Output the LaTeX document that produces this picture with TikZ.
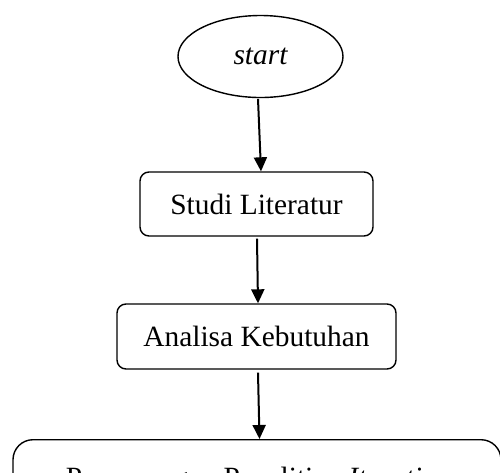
\documentclass[tikz,border=0pt]{standalone}
\usepackage{fontspec}
\setmainfont{Liberation Serif}
\usetikzlibrary{shapes.geometric,arrows.meta}
\begin{document}
\begin{tikzpicture}[x=0.5pt,y=-0.5pt,
  every node/.style={font=\fontsize{14.7}{17}\selectfont, inner sep=0pt},
  stepbox/.style={draw, line width=0.7pt, rounded corners=4.5pt},
  termbox/.style={draw, line width=0.7pt, ellipse},
  arr/.style={line width=1pt, -{Triangle[length=7pt,width=6.5pt]}}]
\useasboundingbox (0,0) rectangle (500,473);
\clip (0,0) rectangle (500,473);
\node[termbox, minimum width=82.5pt, minimum height=41pt] (start) at (260.5,56.5) {\itshape start};
\node[stepbox, minimum width=116.5pt, minimum height=32pt] (studi) at (256.5,204) {Studi Literatur};
\node[stepbox, minimum width=139.5pt, minimum height=32.5pt] (ana) at (256.5,336.5) {Analisa Kebutuhan};
\node[stepbox, rounded corners=10pt, minimum width=244pt, minimum height=60pt, anchor=north] (per) at (257,439) {};
\node[anchor=base] (pertext) at (257,487) {Perancangan Penelitian \textit{Iterative}};
\draw[arr] ([xshift=-1.25pt,yshift=-0.3pt]start.south) -- ([xshift=2.25pt]studi.north);
\draw[arr] ([xshift=0.25pt,yshift=-1pt]studi.south) -- ([xshift=0.75pt]ana.north);
\draw[arr] ([xshift=0.75pt,yshift=-1.5pt]ana.south) -- ([xshift=1.25pt]per.north);
\end{tikzpicture}
\end{document}
